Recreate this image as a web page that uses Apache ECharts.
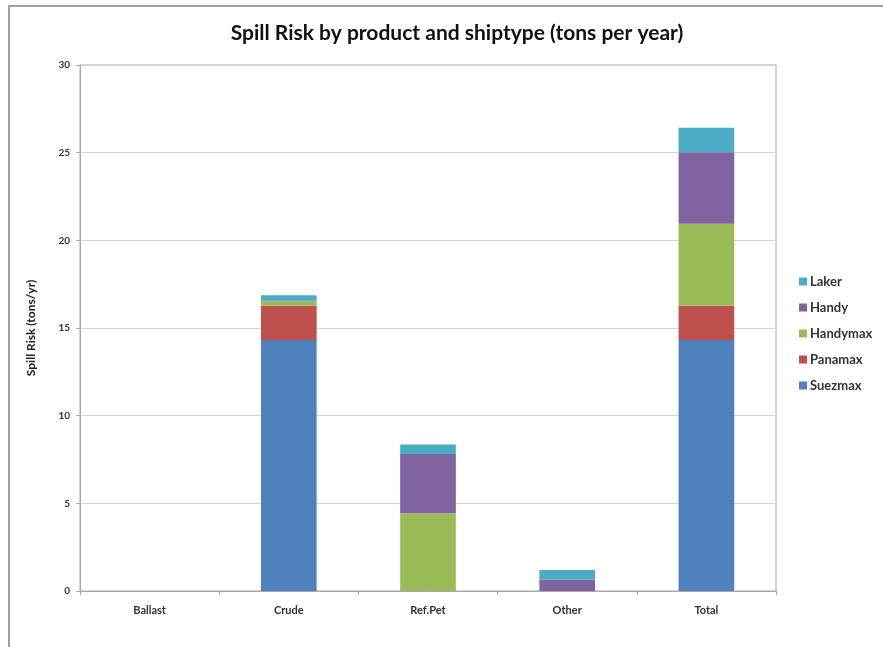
<!DOCTYPE html>
<html>
<head>
<meta charset="utf-8">
<script src="https://cdn.jsdelivr.net/npm/echarts@6/dist/echarts.min.js"></script>
<style>html,body{margin:0;padding:0;background:#fff;}#chart{width:883px;height:647px;}</style>
</head>
<body>
<div id="chart"></div>
<script>
const categories = ['Ballast', 'Crude', 'Ref.Pet', 'Other', 'Total'];
const suezmax  = [0, 14.32, 0, 0, 14.32];
const panamax  = [0, 1.95, 0, 0, 1.95];
const handymax = [0, 0.25, 4.43, 0, 4.68];
const handy    = [0, 0.05, 3.38, 0.65, 4.08];
const laker    = [0, 0.30, 0.54, 0.55, 1.39];
const legendOrder = ['Laker', 'Handy', 'Handymax', 'Panamax', 'Suezmax'];

const font = 'Lato, "Open Sans", sans-serif';
const chart = echarts.init(document.getElementById('chart'));
function s(name, data, color) {
  return { name, type: 'bar', stack: 'a', data, barWidth: '40%', itemStyle: { color }, emphasis: { disabled: true } };
}
chart.setOption({
  animation: false,
  graphic: [{ type: 'rect', shape: { x: 9, y: 6, width: 900, height: 700 }, style: { fill: 'none', stroke: '#a0a0a0', lineWidth: 2 } }],
  title: { text: 'Spill Risk by product and shiptype (tons per year)', left: 452, top: 18, textAlign: 'center',
    textStyle: { fontFamily: font, fontSize: 21, fontWeight: 'bold', color: '#111' } },
  grid: { left: 80, right: 107, top: 65, bottom: 56, show: true, borderColor: '#a8a8a8', borderWidth: 1 },
  legend: { orient: 'vertical', left: 794, top: 270, itemWidth: 8, itemHeight: 8, itemGap: 13, icon: 'rect', data: legendOrder,
    textStyle: { fontFamily: font, fontSize: 13, fontWeight: 'bold', color: '#333', padding: [0, 0, 0, -2] } },
  xAxis: { type: 'category', data: categories,
    axisLine: { lineStyle: { color: '#a8a8a8' } },
    axisTick: { show: true, length: 4, lineStyle: { color: '#a8a8a8' } },
    axisLabel: { fontFamily: font, fontSize: 11, fontWeight: 'bold', color: '#333', margin: 14 } },
  yAxis: { type: 'value', min: 0, max: 30, interval: 5,
    name: 'Spill Risk (tons/yr)', nameLocation: 'middle', nameGap: 43,
    nameTextStyle: { fontFamily: font, fontSize: 12, fontWeight: 'bold', color: '#222' },
    axisLine: { show: true, lineStyle: { color: '#a8a8a8' } },
    axisTick: { show: true, length: 4, lineStyle: { color: '#a8a8a8' } },
    splitLine: { lineStyle: { color: '#d4d4d4' } },
    axisLabel: { fontFamily: font, fontSize: 10, fontWeight: 'bold', color: '#333', margin: 10 } },
  series: [
    s('Suezmax', suezmax, '#4F81BD'),
    s('Panamax', panamax, '#C0504D'),
    s('Handymax', handymax, '#9BBB59'),
    s('Handy', handy, '#8064A2'),
    s('Laker', laker, '#4BACC6')
  ]
});
</script>
</body>
</html>
